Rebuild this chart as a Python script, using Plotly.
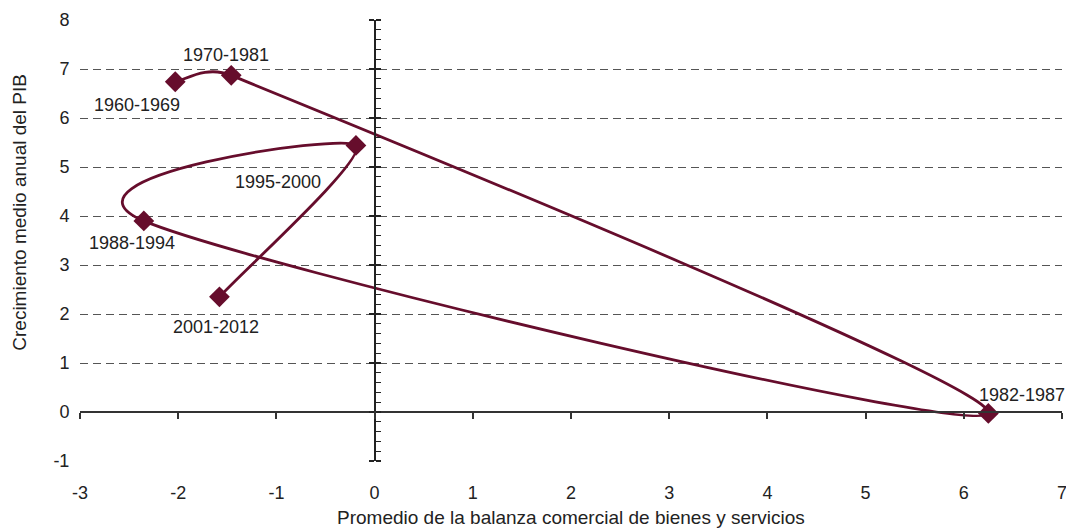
import math
import plotly.graph_objects as go

periods = ["1960-1969", "1970-1981", "1982-1987", "1988-1994", "1995-2000", "2001-2012"]
balanza = [-2.03, -1.46, 6.25, -2.35, -0.19, -1.58]
crecimiento = [6.74, 6.87, -0.03, 3.90, 5.44, 2.35]
label_shift_x = [-38, -5, 34, -12, -78, -3]
label_shift_y = [-23, 20, 18, -22, -37, -30]

x_ticks = list(range(-3, 8))
y_ticks = list(range(-1, 9))
x_ticktext = [str(v) for v in x_ticks]
y_ticktext = [str(v) for v in y_ticks]
x_title = "Promedio de la balanza comercial de bienes y servicios"
y_title = "Crecimiento medio anual del PIB"

color = "#660D2C"
font = "Liberation Sans, Arial, sans-serif"

W, H = 1066, 528
M = dict(l=80, r=4, t=20, b=67)
xr = [x_ticks[0], x_ticks[-1]]
yr = [y_ticks[0], y_ticks[-1]]
# pixel scale per data unit (used only to shape the smoothing like a spreadsheet chart)
sx = (W - M["l"] - M["r"]) / (xr[1] - xr[0])
sy = (H - M["t"] - M["b"]) / (yr[1] - yr[0])

# smoothed line (cubic Bezier, Catmull-Rom style with clamped handles)
pts = [(x * sx, y * sy) for x, y in zip(balanza, crecimiento)]
n = len(pts)
def dist(a, b):
    return math.hypot(a[0] - b[0], a[1] - b[1])
handles = []
for i in range(n):
    prev = pts[i - 1] if i > 0 else pts[i]
    nxt = pts[i + 1] if i < n - 1 else pts[i]
    tx, ty = (nxt[0] - prev[0]) / 6, (nxt[1] - prev[1]) / 6
    tl = math.hypot(tx, ty) or 1.0
    out_len = min(tl, 0.5 * dist(pts[i], nxt)) if i < n - 1 else 0
    in_len = min(tl, 0.5 * dist(pts[i], prev)) if i > 0 else 0
    handles.append(((tx / tl * in_len, ty / tl * in_len), (tx / tl * out_len, ty / tl * out_len)))

def fmt(px, py):
    return f"{px / sx:.5f},{py / sy:.5f}"

path = "M " + fmt(*pts[0])
for i in range(n - 1):
    c1 = (pts[i][0] + handles[i][1][0], pts[i][1] + handles[i][1][1])
    c2 = (pts[i + 1][0] - handles[i + 1][0][0], pts[i + 1][1] - handles[i + 1][0][1])
    path += " C " + fmt(*c1) + " " + fmt(*c2) + " " + fmt(*pts[i + 1])

fig = go.Figure()
fig.add_shape(type="path", path=path, xref="x", yref="y", layer="between",
              line=dict(color=color, width=2.8))
fig.add_trace(go.Scatter(
    x=balanza, y=crecimiento, mode="markers",
    marker=dict(symbol="diamond", size=16, color=color),
    showlegend=False, hoverinfo="skip"))

# dummy traces to bind crossing axes
for xa, ya in [("x2", "y"), ("x", "y2"), ("x", "y3")]:
    fig.add_trace(go.Scatter(x=[None], y=[None], xaxis=xa, yaxis=ya,
                             showlegend=False, hoverinfo="skip"))

for p, xv, yv, dx, dy in zip(periods, balanza, crecimiento, label_shift_x, label_shift_y):
    fig.add_annotation(x=xv, y=yv, text=p, showarrow=False, xshift=dx, yshift=dy,
                       font=dict(size=18, color="#222", family=font))

fig.add_annotation(text=x_title, xref="paper", yref="paper", x=0.5, y=0, yshift=-56,
                   showarrow=False, yanchor="middle",
                   font=dict(size=19, color="#222", family=font))
fig.add_annotation(text=y_title, xref="paper", yref="paper", x=0, xshift=-60, y=0.563,
                   showarrow=False, textangle=-90, xanchor="center", yanchor="middle",
                   font=dict(size=19, color="#222", family=font))

xpos0 = (0 - xr[0]) / (xr[1] - xr[0])
ypos0 = (0 - yr[0]) / (yr[1] - yr[0])

fig.update_layout(
    width=W, height=H,
    margin=dict(M, autoexpand=False),
    paper_bgcolor="white", plot_bgcolor="white",
    font=dict(family=font, size=18, color="#222"),
    xaxis=dict(range=xr, tickvals=x_ticks, ticktext=x_ticktext, showgrid=False,
               zeroline=False, showline=False, ticks="outside", ticklen=15,
               tickcolor="rgba(0,0,0,0)", ticklabeloverflow="allow", automargin=False),
    yaxis=dict(range=yr, tickvals=y_ticks, ticktext=y_ticktext, showgrid=True,
               griddash="8px,5px", gridcolor="#555", gridwidth=1.2, zeroline=False,
               showline=False, ticks="outside", ticklen=6, tickcolor="rgba(0,0,0,0)",
               automargin=False),
    xaxis2=dict(range=xr, tickvals=x_ticks, overlaying="x", anchor="free",
                position=ypos0, side="bottom", showline=True, linecolor="#333",
                linewidth=1.5, ticks="outside", ticklen=6, tickwidth=1.5,
                tickcolor="#333", showticklabels=False, showgrid=False, zeroline=False),
    yaxis2=dict(range=yr, tickvals=y_ticks, overlaying="y", anchor="free",
                position=xpos0, side="left", showline=True, linecolor="#222",
                linewidth=1.5, ticks="outside", ticklen=5, tickwidth=1.5,
                tickcolor="#222", showticklabels=False, showgrid=False, zeroline=False),
    yaxis3=dict(range=yr, tickvals=y_ticks, overlaying="y", anchor="free",
                position=xpos0, side="right", showline=False,
                ticks="outside", ticklen=5, tickwidth=1.5, tickcolor="#222",
                minor=dict(dtick=0.2, ticks="outside", ticklen=5, tickwidth=1, tickcolor="#222"),
                showticklabels=False, showgrid=False, zeroline=False),
)

fig.write_html("out.html", config={"displayModeBar": False},
               post_script="document.body.style.margin='0px';document.body.style.overflow='hidden';")
